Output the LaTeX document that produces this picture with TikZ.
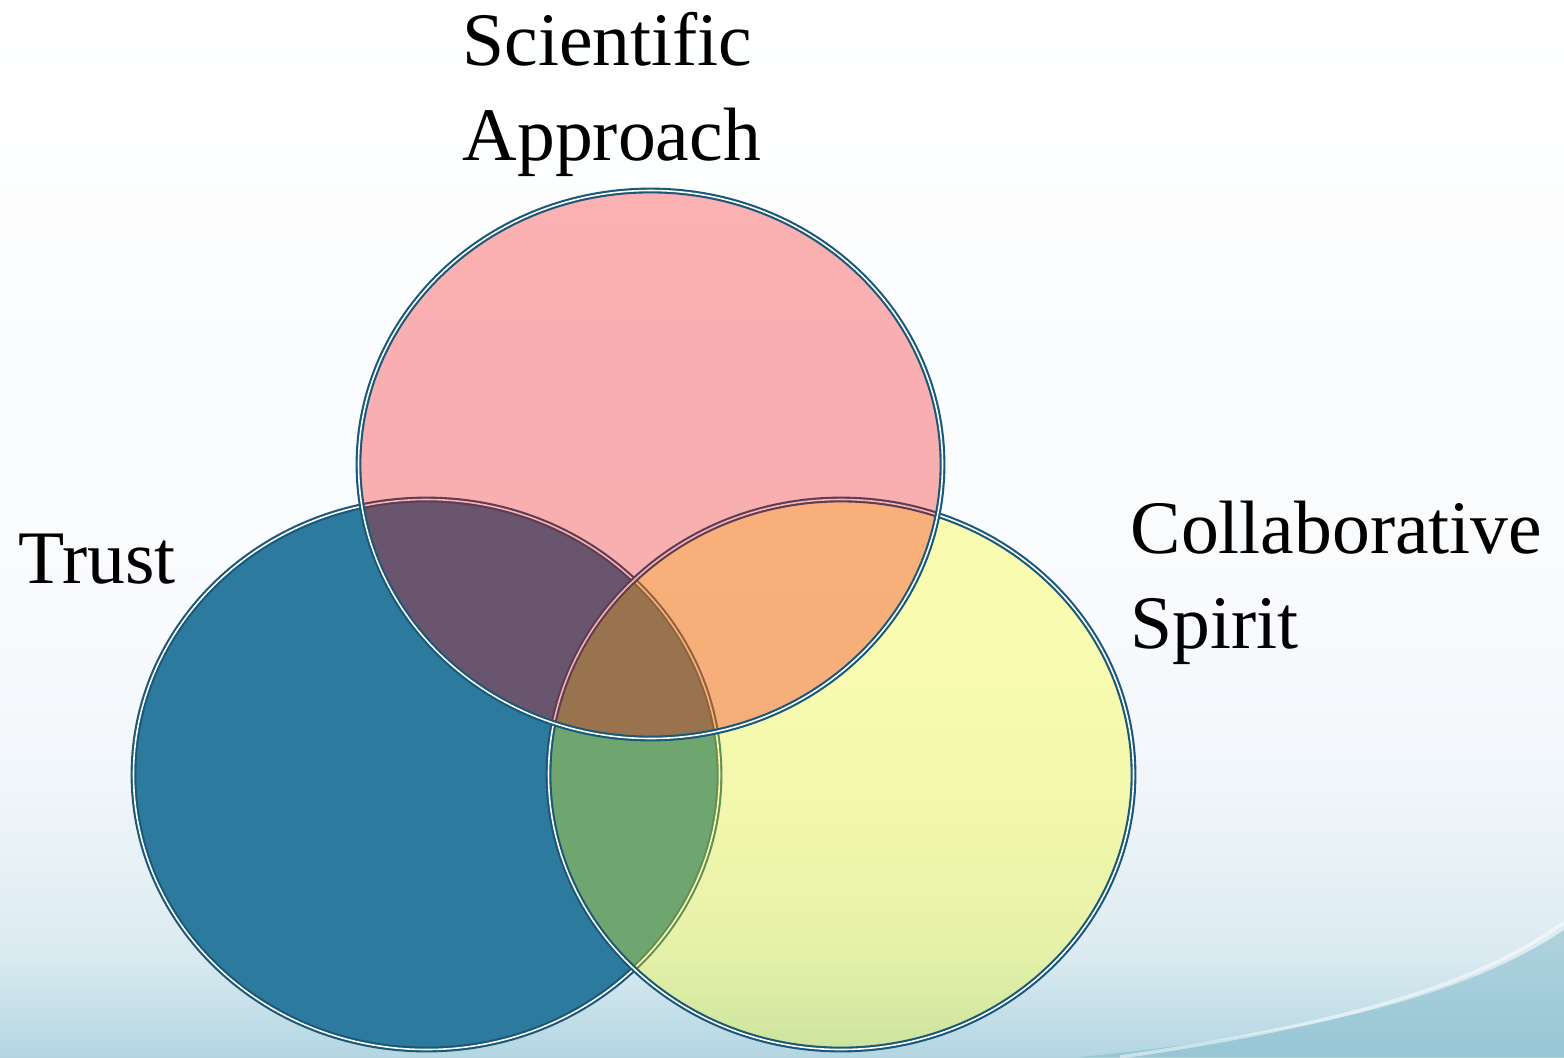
\documentclass[tikz,border=0pt]{standalone}
\usepackage{fontspec}
\setmainfont{Liberation Serif}
\definecolor{trustblue}{HTML}{2C7B9E}
\definecolor{sciencered}{RGB}{247,0,0}
\definecolor{spirityellow}{RGB}{250,255,20}
\definecolor{rimblue}{HTML}{1A5878}
\definecolor{skymid}{HTML}{F8FAFD}
\definecolor{skylow}{HTML}{F1F6FA}
\definecolor{skydeep}{HTML}{DCEBF1}
\definecolor{skybottom}{HTML}{B3D6E2}
\definecolor{wavecol}{HTML}{7DB7CA}
\pgfdeclareverticalshading{skyfade}{100bp}{color(0bp)=(skybottom); color(25bp)=(skybottom);
  color(30bp)=(skydeep); color(38bp)=(skylow); color(45bp)=(skymid); color(75bp)=(white); color(100bp)=(white)}
\begin{document}
\begin{tikzpicture}[x=0.01cm,y=-0.01cm,
  rim/.style={draw=rimblue,line width=0.6pt,double=white,double distance=0.45pt},
  venntext/.style={anchor=base west,inner sep=0pt,align=left,
    font=\fontsize{21.5}{27}\selectfont}]

\useasboundingbox (0,0) rectangle (1564,1057);
\shade[shading=skyfade] (0,0) rectangle (1564,1057);
\fill[wavecol,opacity=0.5] (1080,1057) .. controls (1300,1035) and (1460,1000) .. (1564,930) -- (1564,1057) -- cycle;
\draw[white,opacity=0.5,line width=1pt] (1120,1057) .. controls (1340,1025) and (1480,985) .. (1564,922);

\fill[trustblue,rim] (426.5,774.5) ellipse [x radius=293,y radius=275];
\fill[spirityellow,fill opacity=0.33,rim] (841,774.5) ellipse [x radius=292.5,y radius=275];
\fill[sciencered,fill opacity=0.3,rim] (650.5,464.5) ellipse [x radius=292,y radius=274];

\node[venntext] (science) at (462,160) {Scientific\\Approach};
\node[venntext] (trust) at (18,583) {Trust};
\node[venntext] (spirit) at (1130,648) {Collaborative\\Spirit};
\end{tikzpicture}
\end{document}
